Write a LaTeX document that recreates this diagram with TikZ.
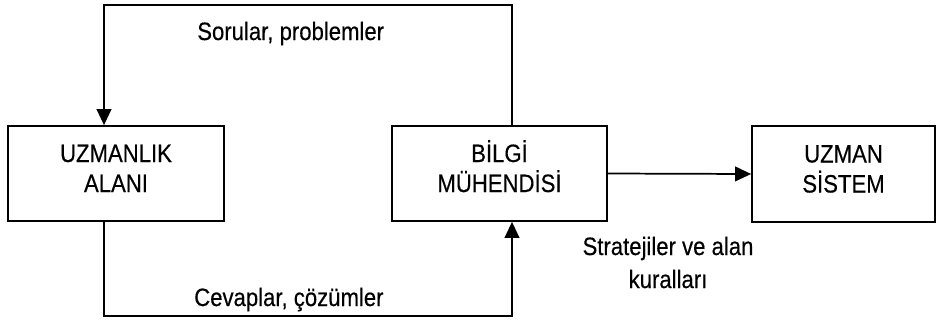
\documentclass[tikz,border=0pt]{standalone}
\usepackage{fontspec}
\usepackage{graphicx}
\setmainfont[FakeBold=0.4]{Liberation Sans}
\usetikzlibrary{arrows.meta,calc}
\newcommand{\nt}[1]{\scalebox{0.88}[1]{#1}}
\begin{document}
\begin{tikzpicture}[x=0.75pt,y=-0.75pt,
  box/.style={draw,line width=1.3pt,align=center,inner sep=0pt,text height=41.25pt,text depth=13.5pt,font=\fontsize{18.85pt}{22.5pt}\selectfont},
  lab/.style={inner sep=0pt,font=\fontsize{18.85pt}{24.75pt}\selectfont},
  arr/.style={line width=1.3pt,-{Triangle[length=12pt,width=11pt]}}]
\useasboundingbox (0,0) rectangle (936,322);
\node[box,minimum width=216*0.75pt,minimum height=95*0.75pt] (uz) at (116,173.5) {\nt{UZMANLIK}\\\nt{ALANI}};
\node[box,minimum width=215*0.75pt,minimum height=95*0.75pt] (bm) at (499.5,173.5) {\nt{BİLGİ}\\\nt{MÜHENDİSİ}};
\node[box,minimum width=183*0.75pt,minimum height=96*0.75pt] (us) at (843.5,174) {\nt{UZMAN}\\\nt{SİSTEM}};
\coordinate (c1) at (512,5);
\coordinate (c2) at (104,5);
\coordinate (c3) at (104,316);
\coordinate (c4) at (512,316);
\draw[arr] (bm.north -| c1) -- (c1) -- (c2) -- (uz.north -| c2);
\draw[arr] (uz.south -| c3) -- (c3) -- (c4) -- (bm.south -| c4);
\draw[arr] (bm.east) -- (us.west);
\node[lab,anchor=base west] (l1) at (197,40) {\nt{Sorular, problemler}};
\node[lab,anchor=base west] (l2) at (194,306) {\nt{Cevaplar, çözümler}};
\node[lab,anchor=base,align=center] (l3) at (668,288) {\nt{Stratejiler ve alan}\\\nt{kuralları}};
\end{tikzpicture}
\end{document}
